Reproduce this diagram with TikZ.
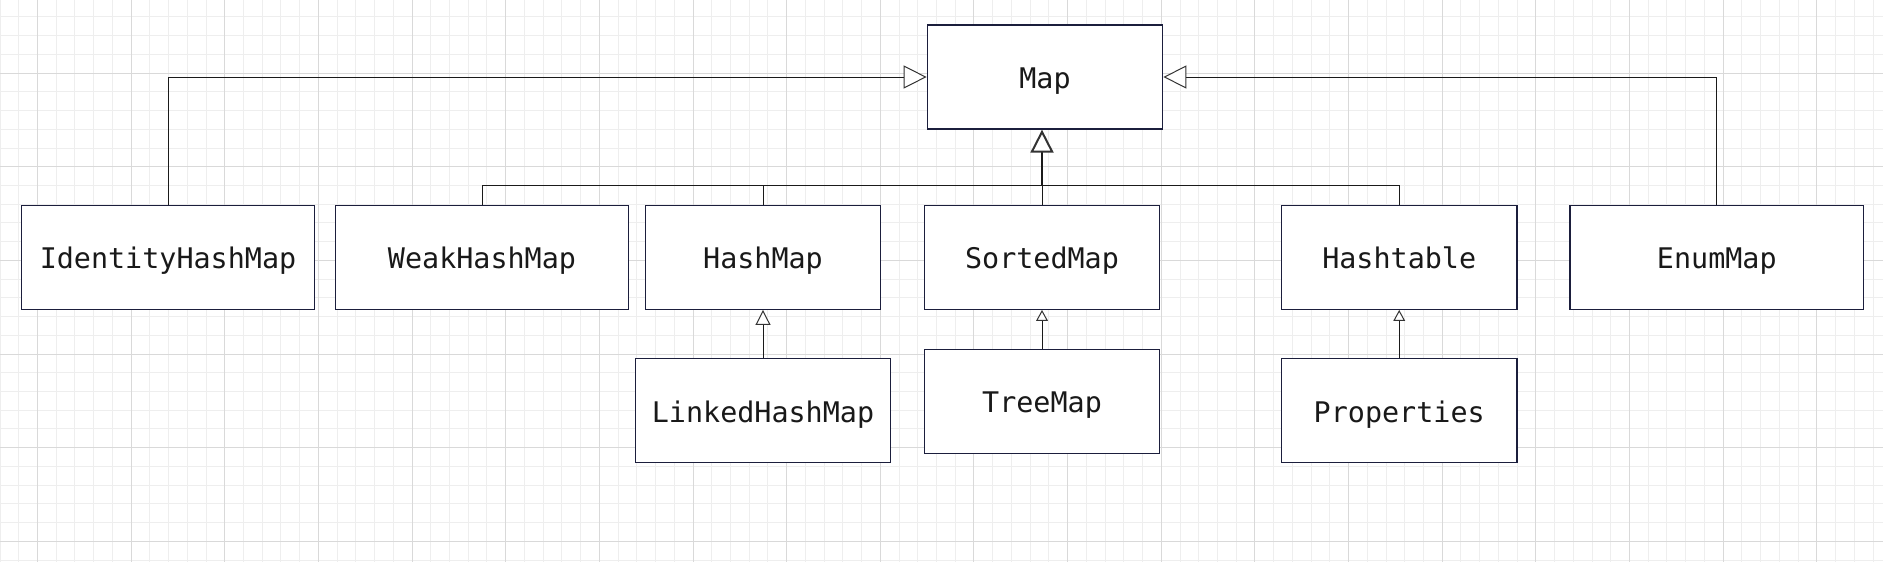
\documentclass[tikz,border=0pt]{standalone}
\usepackage{fontspec}
\newfontfamily\codefont{DejaVu Sans Mono}
\usetikzlibrary{arrows.meta}
\definecolor{gridminor}{HTML}{EEEEEE}
\definecolor{gridmajor}{HTML}{D9D9D9}
\definecolor{boxline}{HTML}{1B1E3C}
\definecolor{linkline}{HTML}{1A1A1A}
\definecolor{tipline}{HTML}{333333}

\begin{document}
\begin{tikzpicture}[x=0.5pt, y=-0.5pt,
    cls/.style={draw=boxline, line width=0.65pt, fill=white, rectangle, inner sep=0pt, minimum height=52pt, text height=11.6pt, text depth=0pt, font=\codefont\fontsize{14.2}{17}\selectfont, text=black!90},
    wide/.style={cls, minimum width=146.7pt},
    mid/.style={cls, minimum width=117.7pt},
    link/.style={draw=linkline, line width=0.5pt},
    realize/.style={link, -{Triangle[fill=white, color=tipline, length=11.5pt, width=11.5pt]}},
    realizebig/.style={draw=linkline, line width=1pt, -{Triangle[fill=white, color=tipline, length=11.5pt, width=11.5pt]}},
    realizesmall/.style={link, -{Triangle[fill=white, color=tipline, length=7.5pt, width=7.5pt]}},
    realizetiny/.style={link, -{Triangle[fill=white, color=tipline, length=5.4pt, width=5.8pt]}}
  ]
  \useasboundingbox (0,0) rectangle (1883,562);
  \fill[white] (0,0) rectangle (1883,562);
  \foreach \i in {0,...,100} \draw[gridminor, line width=0.5pt] (\i*18.73,0) -- (\i*18.73,562);
  \foreach \j in {0,...,29} \draw[gridminor, line width=0.5pt] (0,16.9+\j*18.73) -- (1883,16.9+\j*18.73);
  \foreach \k in {0,...,19} \draw[gridmajor, line width=0.5pt] (37.46+\k*93.65,0) -- (37.46+\k*93.65,562);
  \foreach \k in {0,...,5} \draw[gridmajor, line width=0.5pt] (0,73.1+\k*93.65) -- (1883,73.1+\k*93.65);

  \node[mid] (map) at (1045,77) {Map};
  \node[wide] (identity) at (168,257.3) {IdentityHashMap};
  \node[wide] (weak) at (482,257.3) {WeakHashMap};
  \node[mid] (hashmap) at (763,257.3) {HashMap};
  \node[mid] (sorted) at (1042,257.3) {SortedMap};
  \node[mid] (hashtable) at (1399.2,257.3) {Hashtable};
  \node[wide] (enum) at (1716.8,257.3) {EnumMap};
  \node[cls, minimum width=127.3pt] (linked) at (763,410.8) {LinkedHashMap};
  \node[mid] (tree) at (1042,401.3) {TreeMap};
  \node[mid] (props) at (1399.2,410.8) {Properties};

  \coordinate (bus) at (1042,185.3);
  \draw[realize] (identity.north) |- (map.west);
  \draw[realize] (enum.north) |- (map.east);
  \draw[link] (weak.north) |- (bus);
  \draw[link] (hashtable.north) |- (bus);
  \draw[link] (hashmap.north) -- (hashmap.north |- bus);
  \draw[link] (sorted.north) -- (bus);
  \draw[realizebig] (bus) -- (bus |- map.south);

  \draw[realizesmall] (linked.north) -- (hashmap.south);
  \draw[realizetiny] (tree.north) -- (sorted.south);
  \draw[realizetiny] (props.north) -- (hashtable.south);
\end{tikzpicture}
\end{document}
